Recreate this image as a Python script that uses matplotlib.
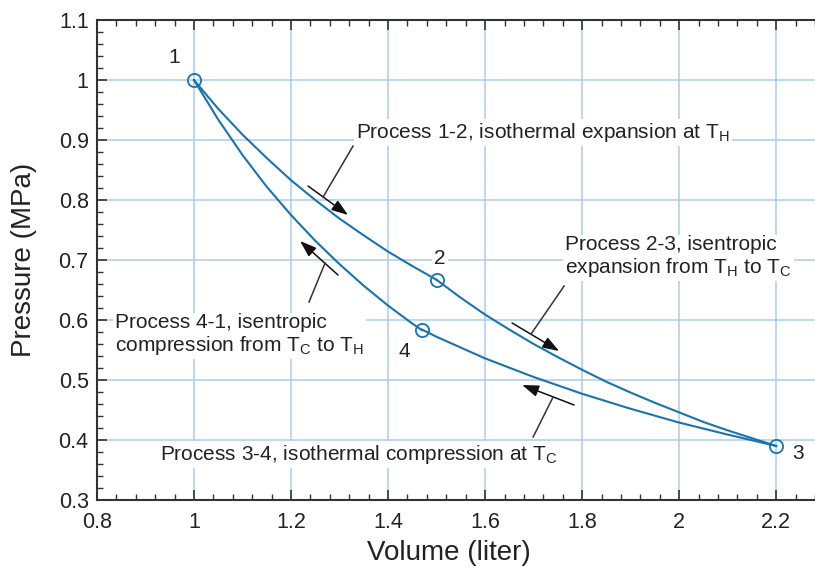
import matplotlib
matplotlib.use('Agg')
import matplotlib.pyplot as plt
from matplotlib.ticker import MultipleLocator

plt.rcParams['font.family'] = ['Liberation Sans', 'DejaVu Sans']
plt.rcParams['mathtext.default'] = 'regular'

# 読み取った値 (volume in liter, pressure in MPa)
v12 = [1.0, 1.05, 1.1, 1.15, 1.2, 1.25, 1.3, 1.35, 1.4, 1.45, 1.5]
p12 = [1.0, 0.952, 0.909, 0.870, 0.833, 0.800, 0.769, 0.741, 0.714, 0.690, 0.667]
v23 = [1.5, 1.55, 1.6, 1.65, 1.7, 1.75, 1.8, 1.85, 1.9, 1.95, 2.0, 2.05, 2.1, 2.15, 2.2]
p23 = [0.667, 0.637, 0.609, 0.584, 0.560, 0.538, 0.517, 0.497, 0.479, 0.462, 0.446, 0.430, 0.416, 0.403, 0.390]
v34 = [2.2, 2.1, 2.0, 1.9, 1.8, 1.7, 1.6, 1.55, 1.5, 1.47]
p34 = [0.390, 0.409, 0.429, 0.452, 0.477, 0.505, 0.536, 0.554, 0.572, 0.584]
v41 = [1.47, 1.45, 1.4, 1.35, 1.3, 1.25, 1.2, 1.15, 1.1, 1.05, 1.0]
p41 = [0.583, 0.594, 0.624, 0.657, 0.693, 0.732, 0.775, 0.822, 0.875, 0.934, 1.0]

state_v = [1.0, 1.5, 2.2, 1.47]
state_p = [1.0, 0.667, 0.390, 0.583]
state_names = ['1', '2', '3', '4']

blue = '#1b73ad'
grid_blue = '#aecbe8'
txt = '#222222'

fig = plt.figure(figsize=(8.15, 5.74), dpi=100)
ax = fig.add_axes([0.119, 0.129, 0.881, 0.836])

for v, p in [(v12, p12), (v23, p23), (v34, p34), (v41, p41)]:
    ax.plot(v, p, color=blue, lw=1.5, zorder=3)
ax.plot(state_v, state_p, 'o', ms=9.5, mfc='none', mec=blue, mew=1.3, zorder=4)

ax.set_xlim(0.8, 2.28)
ax.set_ylim(0.3, 1.1)
ax.xaxis.set_minor_locator(MultipleLocator(0.04))
ax.yaxis.set_minor_locator(MultipleLocator(0.02))
ax.set_xticks([0.8, 1.0, 1.2, 1.4, 1.6, 1.8, 2.0, 2.2])
ax.set_xticklabels(['0.8', '1', '1.2', '1.4', '1.6', '1.8', '2', '2.2'])
ax.set_yticks([0.3, 0.4, 0.5, 0.6, 0.7, 0.8, 0.9, 1.0, 1.1])
ax.set_yticklabels(['0.3', '0.4', '0.5', '0.6', '0.7', '0.8', '0.9', '1', '1.1'])
ax.tick_params(which='both', direction='in', top=True, right=False, colors='#333333', labelcolor=txt)
ax.tick_params(which='major', length=7, width=1.2, labelsize=15.5)
ax.tick_params(axis='x', which='major', pad=9)
ax.tick_params(axis='y', which='major', pad=6)
ax.tick_params(which='minor', length=4, width=1.0)
ax.spines['right'].set_visible(False)
for s in ['left', 'bottom', 'top']:
    ax.spines[s].set_linewidth(1.5)
    ax.spines[s].set_color('#333333')
ax.grid(True, which='major', color=grid_blue, lw=1.1, zorder=0)
ax.set_axisbelow(True)

ax.set_xlabel('Volume (liter)', fontsize=20, color=txt)
ax.set_ylabel('Pressure (MPa)', fontsize=20, color=txt)
ax.xaxis.set_label_coords(0.49, -0.083)
ax.yaxis.set_label_coords(-0.084, 0.5)

box = dict(facecolor='white', edgecolor='none', pad=1.5)

# 状態番号
label_pos = [(0.959, 1.037), (1.507, 0.703), (2.245, 0.378), (1.433, 0.547)]
for name, (x, y) in zip(state_names, label_pos):
    ax.text(x, y, name, fontsize=15, color=txt, ha='center', va='center', bbox=box, zorder=5)

# プロセスの説明
ax.text(1.334, 0.913, 'Process 1-2, isothermal expansion at $T_H$', fontsize=15, color=txt,
        ha='left', va='center', bbox=box, zorder=5)
ax.text(1.765, 0.705, 'Process 2-3, isentropic\nexpansion from $T_H$ to $T_C$', fontsize=15, color=txt,
        ha='left', va='center', linespacing=1.15, bbox=box, zorder=5)
ax.text(0.837, 0.575, 'Process 4-1, isentropic\ncompression from $T_C$ to $T_H$', fontsize=15, color=txt,
        ha='left', va='center', linespacing=1.15, bbox=box, zorder=5)
ax.text(0.93, 0.376, 'Process 3-4, isothermal compression at $T_C$', fontsize=15, color=txt,
        ha='left', va='center', bbox=box, zorder=5)

# 矢印と引き出し線
arrows = [((1.2351, 0.8233), (1.3175, 0.775)),
          ((1.6557, 0.595), (1.7526, 0.5483)),
          ((1.7835, 0.4583), (1.6763, 0.4917)),
          ((1.2969, 0.675), (1.2186, 0.7317))]
leaders = [((1.3278, 0.890), (1.266, 0.805)),
           ((1.7629, 0.6567), (1.6948, 0.5767)),
           ((1.699, 0.405), (1.7402, 0.4717)),
           ((1.2371, 0.630), (1.2701, 0.695))]
for tail, head in arrows:
    ax.annotate('', xy=head, xytext=tail,
                arrowprops=dict(arrowstyle='-|>,head_length=1.0,head_width=0.35', color='#111111',
                                lw=1.1, shrinkA=0, shrinkB=0), zorder=6)
for a, b in leaders:
    ax.plot([a[0], b[0]], [a[1], b[1]], color='#333333', lw=1.1, zorder=6)

fig.savefig('out.png', dpi=100)
